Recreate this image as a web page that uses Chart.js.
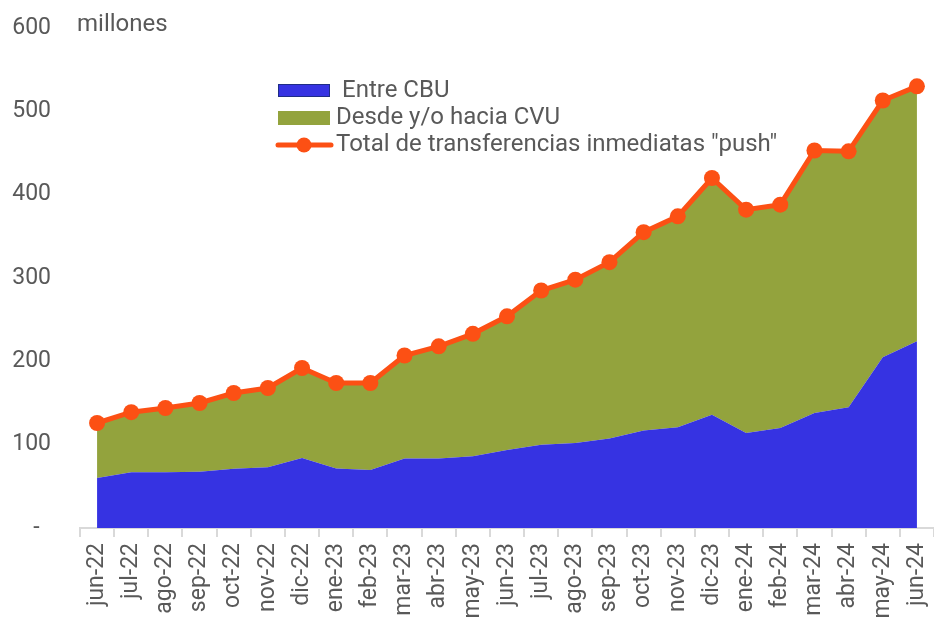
<!DOCTYPE html>
<html>
<head>
<meta charset="utf-8">
<script src="https://cdn.jsdelivr.net/npm/chart.js@4/dist/chart.umd.min.js"></script>
<style>
  html, body { margin: 0; padding: 0; background: #fff; }
  #wrap { width: 934px; height: 618px; }
</style>
</head>
<body>
<div id="wrap"><canvas id="transfChart" width="934" height="618"></canvas></div>
<script>
// Transferencias inmediatas "push" (millones)
const months = ['jun-22', 'jul-22', 'ago-22', 'sep-22', 'oct-22', 'nov-22', 'dic-22', 'ene-23', 'feb-23',
  'mar-23', 'abr-23', 'may-23', 'jun-23', 'jul-23', 'ago-23', 'sep-23', 'oct-23', 'nov-23', 'dic-23',
  'ene-24', 'feb-24', 'mar-24', 'abr-24', 'may-24', 'jun-24'];
const entreCBU = [60, 67, 67, 67.5, 71, 73, 84, 71.5, 69.5, 83.5, 83.5, 86, 93.5, 100, 102, 107.5,
  117, 121, 136, 114, 120, 138, 145, 205, 224];
const desdeCVU = [66, 72, 77, 82.5, 91, 95, 108, 102.5, 104.5, 123.5, 134.5, 147, 160.5, 185, 196, 211.5,
  238, 253, 284, 268, 268, 315, 307, 308, 306];
const totalPush = [126, 139, 144, 150, 162, 168, 192, 174, 174, 207, 218, 233, 254, 285, 298, 319,
  355, 374, 420, 382, 388, 453, 452, 513, 530];
const yTicks = [0, 100, 200, 300, 400, 500, 600];

const BLUE = '#3633E2';
const GREEN = '#93A33D';
const ORANGE = '#FC5014';
const TEXT = '#595959';
const FONT = 'Roboto, "Noto Sans", sans-serif';

// "millones" label and the legend drawn inside the plot
const extras = {
  id: 'extras',
  afterDraw(chart) {
    const ctx = chart.ctx;
    const y600 = chart.scales.y.getPixelForValue(600);
    ctx.save();
    ctx.fillStyle = TEXT;
    ctx.font = '24px ' + FONT;
    ctx.textBaseline = 'middle';
    ctx.textAlign = 'left';
    ctx.fillText('millones', 77, y600 - 3);

    // legend
    ctx.fillStyle = BLUE;
    ctx.fillRect(278, 84, 52, 13);
    ctx.strokeStyle = '#1F2D86';
    ctx.lineWidth = 1;
    ctx.strokeRect(278.5, 84.5, 51, 12);
    ctx.fillStyle = GREEN;
    ctx.fillRect(278, 111, 52, 14);
    ctx.strokeStyle = ORANGE;
    ctx.lineWidth = 5;
    ctx.lineCap = 'round';
    ctx.beginPath();
    ctx.moveTo(278, 145);
    ctx.lineTo(331, 145);
    ctx.stroke();
    ctx.fillStyle = ORANGE;
    ctx.beginPath();
    ctx.arc(304, 145, 7.5, 0, Math.PI * 2);
    ctx.fill();

    ctx.fillStyle = TEXT;
    ctx.fillText('Entre CBU', 342, 91);
    ctx.fillText('Desde y/o hacia CVU', 336, 118);
    ctx.fillText('Total de transferencias inmediatas "push"', 336, 145);
    ctx.restore();
  }
};

const ctx = document.getElementById('transfChart').getContext('2d');
const transfChart = new Chart(ctx, {
  type: 'line',
  data: {
    labels: months,
    datasets: [
      {
        label: 'Total de transferencias inmediatas "push"',
        data: totalPush,
        stack: 'total',
        borderColor: ORANGE,
        backgroundColor: ORANGE,
        borderWidth: 5,
        pointRadius: 8,
        pointBackgroundColor: ORANGE,
        pointBorderWidth: 0,
        fill: false,
        tension: 0,
        clip: false
      },
      {
        label: 'Entre CBU',
        data: entreCBU,
        stack: 'areas',
        borderColor: BLUE,
        backgroundColor: BLUE,
        borderWidth: 0,
        pointRadius: 0,
        fill: 'origin',
        tension: 0
      },
      {
        label: 'Desde y/o hacia CVU',
        data: desdeCVU,
        stack: 'areas',
        borderColor: GREEN,
        backgroundColor: GREEN,
        borderWidth: 0,
        pointRadius: 0,
        fill: '-1',
        tension: 0
      }
    ]
  },
  options: {
    responsive: false,
    animation: false,
    layout: { autoPadding: false, padding: { top: 28, right: 0, left: 0, bottom: 0 } },
    plugins: {
      legend: { display: false },
      tooltip: { enabled: false }
    },
    scales: {
      x: {
        offset: true,
        grid: {
          offset: true,
          drawOnChartArea: false,
          drawTicks: true,
          tickLength: 9,
          color: '#D9D9D9',
          lineWidth: 2
        },
        border: { color: '#D9D9D9', width: 2 },
        ticks: {
          color: TEXT,
          font: { family: FONT, size: 23 },
          minRotation: 90,
          maxRotation: 90,
          autoSkip: false,
          padding: 6
        },
        afterFit(scale) {
          scale.height = 90;
          scale.paddingLeft = 0;
          scale.paddingRight = 0;
        }
      },
      y: {
        stacked: true,
        min: 0,
        max: 600,
        afterBuildTicks(axis) {
          axis.ticks = yTicks.map(v => ({ value: v }));
        },
        grid: { display: false },
        border: { display: false },
        ticks: {
          color: TEXT,
          font: { family: FONT, size: 23 },
          padding: 21,
          callback: v => (v === 0 ? '-  ' : String(v))
        },
        afterFit(scale) {
          scale.width = 80;
          scale.paddingTop = 0;
          scale.paddingBottom = 0;
        }
      }
    }
  },
  plugins: [extras]
});
</script>
</body>
</html>
